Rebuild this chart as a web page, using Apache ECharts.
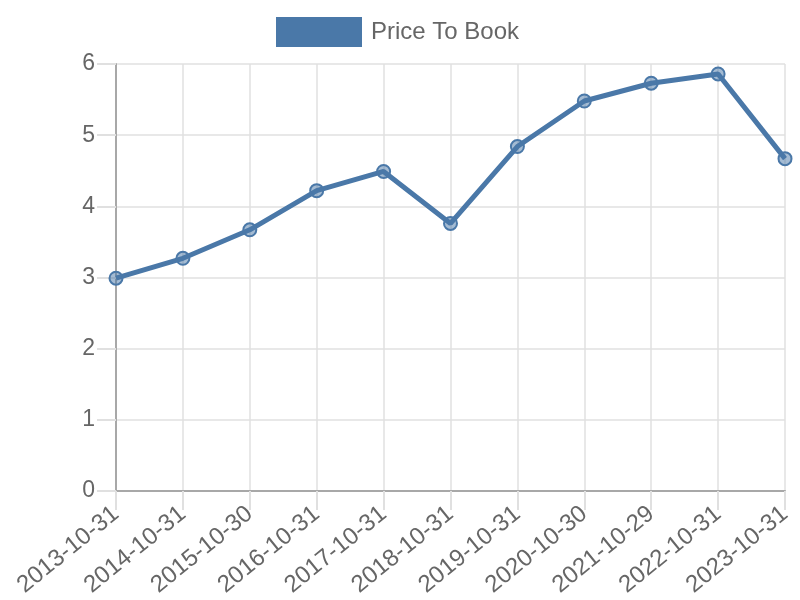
<!DOCTYPE html>
<html>
<head>
<meta charset="utf-8">
<script src="https://cdn.jsdelivr.net/npm/echarts@6/dist/echarts.min.js"></script>
<style>html,body{margin:0;padding:0;background:#fff}#c{width:800px;height:600px}</style>
</head>
<body>
<div id="c"></div>
<script>
const categories = ["2013-10-31","2014-10-31","2015-10-30","2016-10-31","2017-10-31","2018-10-31","2019-10-31","2020-10-30","2021-10-29","2022-10-31","2023-10-31"];
const priceToBook = [2.99, 3.27, 3.67, 4.22, 4.49, 3.76, 4.84, 5.48, 5.73, 5.86, 4.67];
const yTicks = [0, 1, 2, 3, 4, 5, 6];
const seriesName = "Price To Book";

const chart = echarts.init(document.getElementById('c'), null, {renderer: 'canvas'});
const font = "'Liberation Sans', Arial, Helvetica, sans-serif";
chart.setOption({
  animation: false,
  textStyle: {fontFamily: font},
  legend: {
    top: 12, left: 271,
    itemWidth: 86, itemHeight: 30, itemGap: 10,
    icon: 'rect',
    itemStyle: {color: '#4a78a8', borderWidth: 0},
    textStyle: {fontSize: 24, color: '#666', fontFamily: font, padding: [0, 0, 0, 4]},
    data: [seriesName]
  },
  grid: {left: 116, right: 15, top: 64, bottom: 109, containLabel: false},
  xAxis: {
    type: 'category', data: categories, boundaryGap: false,
    axisLine: {show: true, lineStyle: {color: '#a8a8a8', width: 2}},
    axisTick: {show: true, length: 19, lineStyle: {color: '#e0e0e0', width: 2}},
    splitLine: {show: true, lineStyle: {color: '#e0e0e0', width: 1.5}},
    axisLabel: {rotate: 39, fontSize: 24, color: '#666', margin: 20, fontFamily: font, interval: 0}
  },
  yAxis: {
    type: 'value', min: yTicks[0], max: yTicks[yTicks.length-1], interval: 1,
    axisLine: {show: true, lineStyle: {color: '#a8a8a8', width: 2}},
    axisTick: {show: true, length: 19, lineStyle: {color: '#e0e0e0', width: 2}},
    splitLine: {show: true, lineStyle: {color: '#e0e0e0', width: 1.5}},
    axisLabel: {fontSize: 23, color: '#666', margin: 21, fontFamily: font}
  },
  series: [{
    name: seriesName, type: 'line', data: priceToBook,
    symbol: 'circle', symbolSize: 13,
    lineStyle: {color: '#4a78a8', width: 5},
    itemStyle: {color: 'rgba(74,120,168,0.5)', borderColor: '#4a78a8', borderWidth: 2},
    color: '#4a78a8'
  }]
});
</script>
</body>
</html>
